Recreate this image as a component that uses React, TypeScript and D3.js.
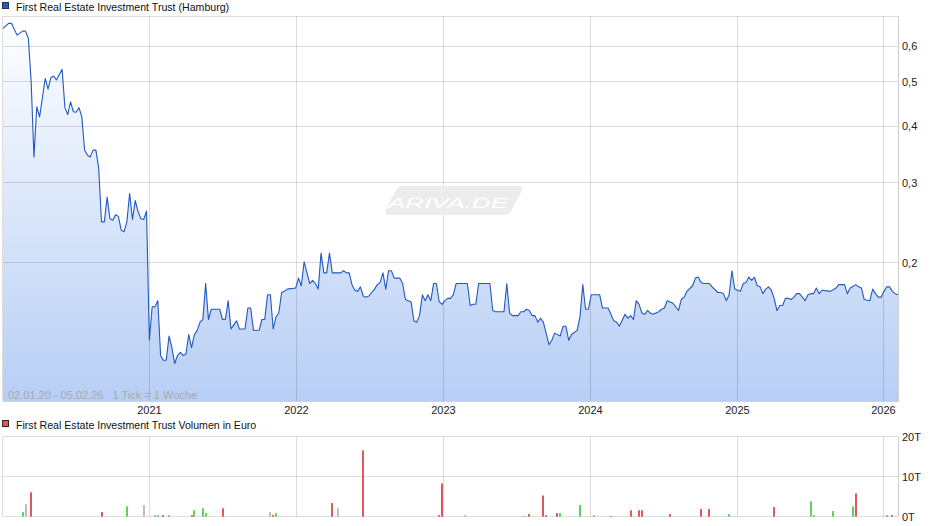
import React from "react";
import * as d3 from "d3";

const START = new Date(2020, 0, 2);
const END = new Date(2026, 1, 5);

// week index (since 02.01.2020) of each traced vertex of the price line
const priceWeeks = [
  0, 2, 3, 5, 7, 8, 9, 10, 11, 12,
  13, 15, 16, 17, 18, 19, 21, 22, 23, 24,
  25, 26, 27, 28, 29, 30, 31, 32, 33, 34,
  35, 36, 37, 38, 39, 40, 41, 42, 43, 44,
  45, 46, 47, 48, 49, 50, 51, 52, 53, 54,
  55, 56, 57, 58, 59, 60, 61, 62, 63, 64,
  65, 66, 67, 68, 69, 70, 71, 72, 73, 74,
  77, 78, 79, 80, 81, 83, 84, 86, 87, 88,
  89, 91, 92, 93, 94, 95, 96, 97, 98, 99,
  100, 101, 104, 105, 106, 107, 109, 110, 111, 112,
  113, 114, 115, 116, 117, 120, 121, 122, 123, 124,
  125, 126, 127, 128, 129, 130, 132, 133, 134, 135,
  136, 137, 138, 139, 141, 142, 143, 145, 146, 147,
  148, 149, 150, 151, 152, 153, 154, 155, 156, 157,
  158, 159, 160, 161, 165, 166, 167, 168, 169, 173,
  174, 175, 178, 179, 180, 181, 183, 184, 185, 186,
  187, 188, 189, 190, 191, 192, 194, 195, 196, 198,
  199, 200, 201, 202, 204, 205, 206, 207, 208, 209,
  212, 213, 215, 217, 218, 219, 221, 222, 223, 224,
  225, 226, 227, 228, 229, 230, 231, 232, 233, 234,
  235, 236, 237, 238, 240, 241, 242, 243, 245, 246,
  247, 248, 249, 251, 252, 254, 255, 256, 257, 258,
  259, 260, 261, 262, 263, 264, 265, 266, 267, 268,
  269, 270, 271, 272, 273, 274, 275, 276, 277, 278,
  279, 280, 281, 282, 283, 284, 285, 286, 287, 288,
  289, 290, 291, 294, 296, 297, 299, 300, 301, 303,
  304, 305, 306, 308, 309, 310, 311, 312, 313, 314,
  315, 316, 317, 318,
];

// price in EUR at those weeks
const priceValues = [
  0.656, 0.673, 0.673, 0.634, 0.647, 0.647, 0.624, 0.501, 0.342, 0.441,
  0.419, 0.509, 0.482, 0.511, 0.515, 0.505, 0.533, 0.439, 0.424, 0.452,
  0.43, 0.429, 0.439, 0.419, 0.354, 0.345, 0.342, 0.354, 0.354, 0.323,
  0.246, 0.246, 0.279, 0.25, 0.248, 0.255, 0.253, 0.236, 0.234, 0.246,
  0.284, 0.249, 0.274, 0.259, 0.25, 0.249, 0.26, 0.135, 0.16, 0.16,
  0.165, 0.125, 0.122, 0.122, 0.138, 0.13, 0.12, 0.125, 0.127, 0.125,
  0.126, 0.139, 0.13, 0.139, 0.142, 0.148, 0.15, 0.18, 0.15, 0.158,
  0.158, 0.15, 0.15, 0.165, 0.143, 0.149, 0.143, 0.143, 0.159, 0.159,
  0.142, 0.142, 0.15, 0.15, 0.17, 0.17, 0.143, 0.152, 0.155, 0.172,
  0.173, 0.175, 0.176, 0.185, 0.178, 0.201, 0.18, 0.183, 0.18, 0.175,
  0.21, 0.19, 0.19, 0.21, 0.19, 0.19, 0.192, 0.19, 0.19, 0.179,
  0.174, 0.173, 0.177, 0.169, 0.168, 0.169, 0.175, 0.179, 0.181, 0.19,
  0.175, 0.192, 0.192, 0.185, 0.185, 0.18, 0.166, 0.164, 0.149, 0.148,
  0.153, 0.17, 0.165, 0.17, 0.165, 0.18, 0.18, 0.164, 0.162, 0.165,
  0.167, 0.167, 0.17, 0.18, 0.18, 0.161, 0.162, 0.162, 0.18, 0.18,
  0.157, 0.156, 0.156, 0.18, 0.155, 0.153, 0.153, 0.156, 0.156, 0.158,
  0.157, 0.153, 0.153, 0.148, 0.151, 0.148, 0.132, 0.135, 0.14, 0.138,
  0.145, 0.145, 0.135, 0.139, 0.142, 0.152, 0.179, 0.158, 0.158, 0.17,
  0.17, 0.159, 0.159, 0.149, 0.148, 0.145, 0.154, 0.151, 0.153, 0.15,
  0.165, 0.162, 0.155, 0.154, 0.157, 0.155, 0.154, 0.155, 0.156, 0.158,
  0.159, 0.165, 0.164, 0.163, 0.157, 0.166, 0.168, 0.173, 0.178, 0.185,
  0.186, 0.181, 0.18, 0.18, 0.177, 0.172, 0.172, 0.171, 0.165, 0.17,
  0.192, 0.175, 0.174, 0.173, 0.18, 0.181, 0.186, 0.183, 0.186, 0.178,
  0.177, 0.171, 0.175, 0.177, 0.174, 0.167, 0.157, 0.161, 0.161, 0.167,
  0.167, 0.166, 0.168, 0.171, 0.171, 0.168, 0.165, 0.17, 0.171, 0.171,
  0.176, 0.171, 0.174, 0.173, 0.176, 0.179, 0.179, 0.171, 0.176, 0.179,
  0.177, 0.176, 0.166, 0.165, 0.175, 0.171, 0.168, 0.168, 0.173, 0.177,
  0.177, 0.173, 0.171, 0.17,
];

const priceTicks = [0.2, 0.3, 0.4, 0.5, 0.6];
const priceTickLabels = ["0,2", "0,3", "0,4", "0,5", "0,6"];
const yearTicks = [2021, 2022, 2023, 2024, 2025, 2026];

// volume (EUR) per week, with direction: g = up, r = down, n = unchanged
const volWeeks = [
  7, 8, 10, 35, 44, 50, 54, 55, 57, 59,
  67, 68, 71, 72, 78, 95, 96, 97, 117, 119,
  128, 155, 156, 164, 185, 187, 192, 193, 197, 198,
  205, 210, 216, 223, 226, 227, 237, 248, 251, 258,
  274, 287, 288, 295, 302, 303, 314, 316,
];
const volValues = [
  1150, 3100, 6100, 1150, 2600, 2900, 400, 400, 400, 400,
  400, 1600, 2100, 900, 2100, 1150, 400, 900, 3400, 2100,
  16600, 400, 8300, 400, 200, 650, 5300, 400, 900, 900,
  2900, 400, 200, 1600, 1600, 1600, 650, 1900, 1900, 650,
  2400, 3850, 400, 1400, 2600, 5800, 400, 400,
];
const volDirs = [
  "g", "n", "r", "r", "g", "n", "g", "g", "r", "g",
  "r", "g", "g", "g", "r", "n", "r", "g", "r", "n",
  "r", "r", "r", "n", "g", "r", "r", "r", "r", "g",
  "g", "g", "r", "r", "r", "r", "r", "r", "r", "g",
  "r", "g", "g", "g", "g", "r", "g", "r",
];
const volTicks = [0, 10000, 20000];
const volTickLabels = ["0T", "10T", "20T"];

const FONT = "'Liberation Sans', Arial, sans-serif";
const GRID = "rgba(0,0,0,0.135)";
const crisp = (v: number) => Math.floor(v) + 0.5;

export default function App() {
  const W = 940;
  const H = 526;
  const left = 3;
  const right = 898;
  const top = 16;
  const bottom = 401;
  const vTop = 436.7;
  const vBottom = 516.7;

  const x = d3.scaleTime().domain([START, END]).range([left, right]);
  const y = d3.scaleLog().domain([0.1, 0.7]).range([399.5, 15.6]);
  const vy = d3.scaleLinear().domain([0, 20000]).range([vBottom, vTop]);

  const data = priceWeeks.map((w, i) => ({
    d: d3.timeDay.offset(START, w * 7),
    v: priceValues[i],
  }));

  const line = d3
    .line<{ d: Date; v: number }>()
    .x((p) => x(p.d))
    .y((p) => y(p.v));
  const area = d3
    .area<{ d: Date; v: number }>()
    .x((p) => x(p.d))
    .y0(bottom)
    .y1((p) => y(p.v));

  const yearX = yearTicks.map((yr) => crisp(x(new Date(yr, 0, 1))));
  const volColor: Record<string, string> = {
    g: "#5fd35f",
    r: "#e05858",
    n: "#bdbdbd",
  };

  return (
    <svg
      width={W}
      height={H}
      style={{ position: "absolute", left: 0, top: 0, background: "#fff" }}
      fontFamily={FONT}
    >
      <defs>
        <linearGradient id="fillGrad" gradientUnits="userSpaceOnUse" x1="0" y1={top} x2="0" y2={bottom}>
          <stop offset="0" stopColor="#ffffff" />
          <stop offset="1" stopColor="#b7cef5" />
        </linearGradient>
      </defs>

      {/* main legend */}
      <rect x={2.5} y={2.5} width={6} height={6} fill="#1f5cc0" stroke="#22334d" />
      <text x={16} y={10.8} fontSize={10.6} fill="#111">
        First Real Estate Investment Trust (Hamburg)
      </text>

      {/* price area */}
      <path d={area(data) || ""} fill="url(#fillGrad)" />

      {/* grid */}
      <line x1={left} x2={right} y1={crisp(top)} y2={crisp(top)} stroke={GRID} />
      {priceTicks.map((t) => (
        <line key={t} x1={left} x2={right} y1={crisp(y(t))} y2={crisp(y(t))} stroke={GRID} />
      ))}
      {yearX.map((xx, i) => (
        <line key={i} x1={xx} x2={xx} y1={top} y2={bottom} stroke={GRID} />
      ))}
      <line x1={2.5} x2={2.5} y1={top} y2={bottom} stroke={GRID} />
      <line x1={crisp(right)} x2={crisp(right)} y1={top} y2={bottom + 1} stroke="#cfcfcf" />
      <line x1={left} x2={right} y1={crisp(bottom)} y2={crisp(bottom)} stroke="#c9d3e3" />

      {/* watermark */}
      <g transform="translate(453.7,200.5) skewX(-27)">
        <rect x={-63} y={-14.5} width={126} height={29} rx={5} fill="#ececec" />
      </g>
      <text
        x={388}
        y={207.5}
        fontSize={15}
        fontStyle="italic"
        fill="#ffffff"
        textLength={120}
        lengthAdjust="spacingAndGlyphs"
      >
        ARIVA.DE
      </text>

      {/* price line */}
      <path d={line(data) || ""} fill="none" stroke="#2158c2" strokeWidth={1.1} strokeLinejoin="round" />

      {/* right axis labels */}
      {priceTicks.map((t, i) => (
        <text key={t} x={902} y={y(t) + 4} fontSize={11} fill="#222">
          {priceTickLabels[i]}
        </text>
      ))}

      {/* date note */}
      <text x={8} y={398.5} fontSize={11} fill="#a9a9a9" style={{ whiteSpace: "pre" }}>
        {"02.01.20 - 05.02.26   1 Tick = 1 Woche"}
      </text>

      {/* year labels */}
      {yearTicks.map((yr, i) => (
        <text key={yr} x={yearX[i]} y={413.5} fontSize={11} textAnchor="middle" fill="#222">
          {yr}
        </text>
      ))}

      {/* volume legend */}
      <rect x={2.5} y={420.5} width={6} height={6} fill="#e05858" stroke="#3a2222" />
      <text x={16} y={428.7} fontSize={10.6} fill="#111">
        First Real Estate Investment Trust Volumen in Euro
      </text>

      {/* volume grid */}
      {volTicks.map((t) => (
        <line key={t} x1={left} x2={right} y1={crisp(vy(t))} y2={crisp(vy(t))} stroke={GRID} />
      ))}
      {yearX.map((xx, i) => (
        <line key={i} x1={xx} x2={xx} y1={vTop} y2={vBottom} stroke={GRID} />
      ))}
      <line x1={2.5} x2={2.5} y1={vTop} y2={vBottom} stroke={GRID} />
      <line x1={crisp(right)} x2={crisp(right)} y1={vTop} y2={vBottom} stroke="#cfcfcf" />

      {/* volume bars */}
      {volWeeks.map((w, i) => {
        const bx = x(d3.timeDay.offset(START, w * 7));
        const top2 = vy(volValues[i]);
        return (
          <rect
            key={i}
            x={Math.round(bx) - 1}
            y={top2}
            width={2}
            height={vy(0) - top2}
            fill={volColor[volDirs[i]]}
          />
        );
      })}

      {/* volume labels */}
      {volTicks.map((t, i) => (
        <text key={t} x={902} y={vy(t) + 4} fontSize={11} fill="#222">
          {volTickLabels[i]}
        </text>
      ))}
    </svg>
  );
}
